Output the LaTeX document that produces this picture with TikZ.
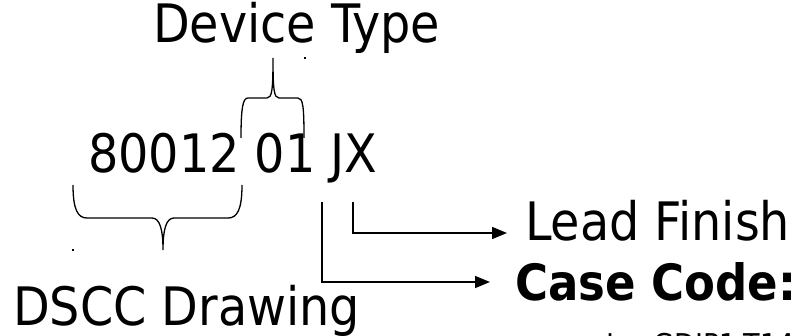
\documentclass[tikz,border=0pt]{standalone}
\usepackage{fontspec}
\usetikzlibrary{arrows.meta}
\newfontfamily\partfont{DejaVu Sans Condensed}

\tikzset{
	partlabel/.style={anchor=base west, inner sep=0pt, font=\partfont\fontsize{53}{64}\selectfont},
	bracepath/.style={line width=1.3pt},
	codearrow/.style={line width=1.5pt, -{Triangle[length=15pt,width=12pt]}}
}

\begin{document}
\begin{tikzpicture}[x=1pt,y=1pt]
	\useasboundingbox (0,0) rectangle (811,335);

	% texts
	\node[partlabel] (devtype) at (153,292) {Device Type};
	\node[partlabel] (partno) at (88,162) {80012 01 JX};
	\node[partlabel] (leadfin) at (525,95) {Lead Finish};
	\node[partlabel, font=\partfont\bfseries\fontsize{50}{60}\selectfont] (casecode) at (515,35) {Case Code:};
	\node[partlabel] (dscc) at (13,10) {DSCC Drawing};
	\node[partlabel, font=\partfont\fontsize{30}{36}\selectfont] (casenote) at (606,-20) {J = GDIP1-T14};

	% braces
	\draw[bracepath] (241,197) .. controls (241,228) and (243,237) .. (248,237) -- (267,237)
		.. controls (272,237) and (273,245) .. (273,277)
		.. controls (273,245) and (274,237) .. (279,237) -- (298,237)
		.. controls (303,237) and (304,228) .. (304,197);
	\draw[bracepath] (73,150) .. controls (73,125) and (78,117) .. (87,117) -- (152,117)
		.. controls (160,117) and (163,105) .. (163,85)
		.. controls (163,105) and (166,117) .. (174,117) -- (228,117)
		.. controls (237,117) and (242,125) .. (242,150);
	\fill (304,276) rectangle (306,278);
	\fill (72,84) rectangle (74,86);

	% arrows
	\coordinate (jstart) at (322,133);
	\coordinate (xstart) at (353,133);
	\coordinate (jend) at ([xshift=-25pt]casecode.west |- 0,53);
	\coordinate (xend) at ([xshift=-18pt]leadfin.west |- 0,102);
	\draw[codearrow] (jstart) |- (jend);
	\draw[codearrow] (xstart) |- (xend);
\end{tikzpicture}
\end{document}
